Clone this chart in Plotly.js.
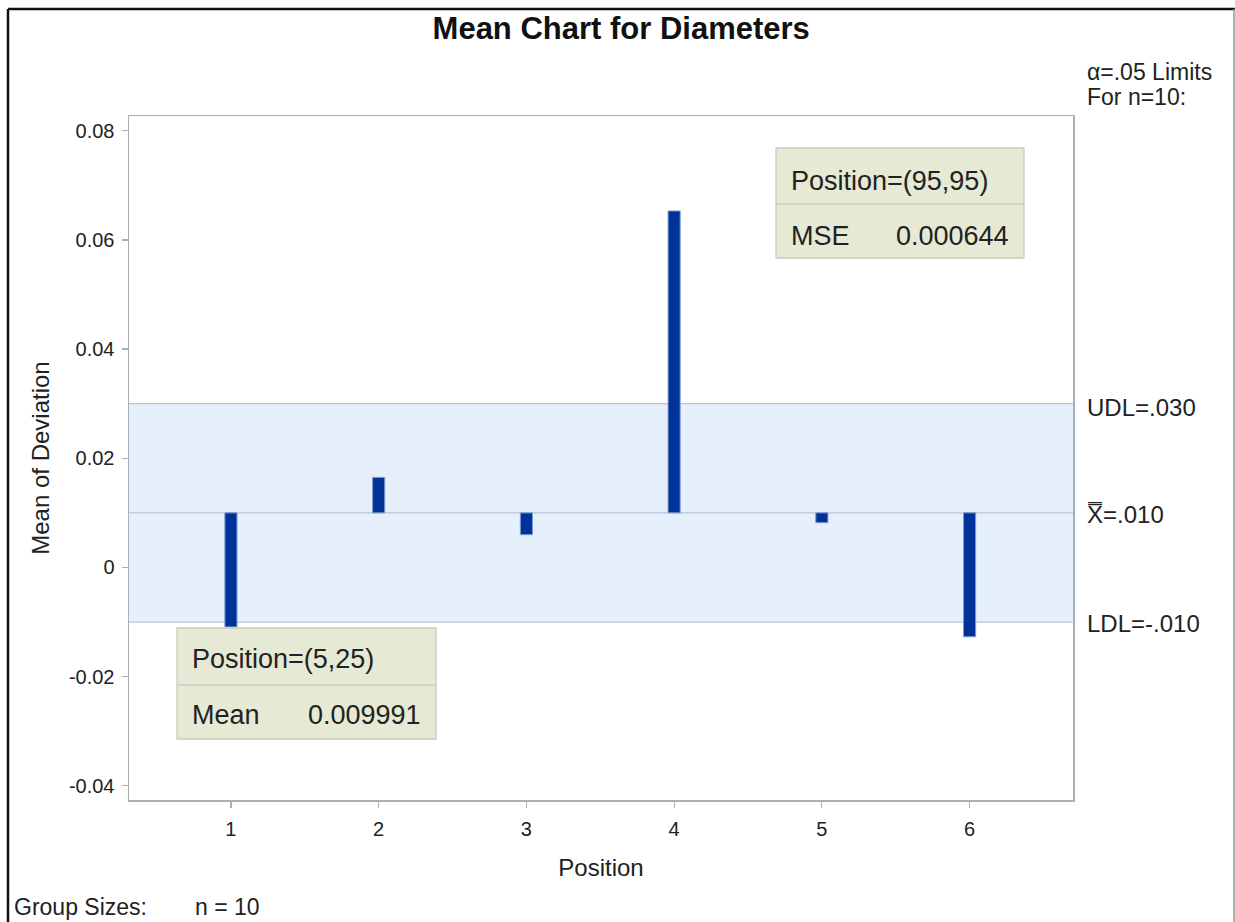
<!DOCTYPE html>
<html>
<head>
<meta charset="utf-8">
<script src="https://cdn.plot.ly/plotly-3.0.1.min.js"></script>
<style>html,body{margin:0;padding:0;background:#fff;}#chart{width:1235px;height:922px;}</style>
</head>
<body>
<div id="chart"></div>
<script>
// ---- data ----
const positions = [1, 2, 3, 4, 5, 6];
const means = [-0.0109, 0.0165, 0.0060, 0.0653, 0.0082, -0.0127];
const centerLine = 0.010;
const upperLimit = 0.030;
const lowerLimit = -0.010;
const yTickVals = [-0.04, -0.02, 0, 0.02, 0.04, 0.06, 0.08];
const yTickText = ['-0.04', '-0.02', '0', '0.02', '0.04', '0.06', '0.08'];
const limitLabels = ['UDL=.030', 'X\u033F=.010', 'LDL=-.010'];
const insetMean = ['Position=(5,25)', 'Mean', '0.009991'];
const insetMSE = ['Position=(95,95)', 'MSE', '0.000644'];

// ---- layout helpers (pixel -> paper) ----
const L = 129, R = 1073, T = 116, B = 800;
const px = v => (v - L) / (R - L);
const py = v => (B - v) / (B - T);
const FONT = 'Liberation Sans, Arial, sans-serif';
const TXT = '#222';

const trace = {
  type: 'bar',
  x: positions,
  y: means.map(m => m - centerLine),
  base: centerLine,
  width: 0.082,
  marker: {color: '#003399', line: {color: '#7f99cc', width: 1}},
  hoverinfo: 'skip'
};

const boxFill = '#e6e9d3', boxLine = '#c9cbc0';
const shapes = [
  {type:'rect', xref:'paper', yref:'y', x0:0, x1:1, y0:lowerLimit, y1:upperLimit,
   fillcolor:'#e6f0fd', line:{width:0}, layer:'below'},
  ...[upperLimit, centerLine, lowerLimit].map(v => ({type:'line', xref:'paper', yref:'y',
   x0:0, x1:1, y0:v, y1:v, line:{color:'#b9c3d6', width:1.3}, layer:'below'})),
  // inset box 1
  {type:'rect', xref:'paper', yref:'paper', x0:px(177), x1:px(436), y0:py(739), y1:py(628),
   fillcolor:boxFill, line:{color:boxLine, width:1.3}},
  {type:'line', xref:'paper', yref:'paper', x0:px(177), x1:px(436), y0:py(685), y1:py(685),
   line:{color:boxLine, width:1.3}},
  // inset box 2
  {type:'rect', xref:'paper', yref:'paper', x0:px(776), x1:px(1024), y0:py(258), y1:py(148),
   fillcolor:boxFill, line:{color:boxLine, width:1.3}},
  {type:'line', xref:'paper', yref:'paper', x0:px(776), x1:px(1024), y0:py(204), y1:py(204),
   line:{color:boxLine, width:1.3}},
  // outer frame
  {type:'line', xref:'paper', yref:'paper', x0:px(8), x1:px(1235), y0:py(9), y1:py(9),
   line:{color:'#111', width:2.5}},
  {type:'line', xref:'paper', yref:'paper', x0:px(8), x1:px(8), y0:py(9), y1:py(930),
   line:{color:'#111', width:2.5}},
  {type:'line', xref:'paper', yref:'paper', x0:px(1234), x1:px(1234), y0:py(9), y1:py(930),
   line:{color:'#999', width:1.5}}
];

const ann = (text, x, y, xanchor, size, extra) => Object.assign({
  text, x, y, xref:'paper', yref:'paper', xanchor, yanchor:'middle', showarrow:false,
  font:{family:FONT, size, color:TXT}
}, extra || {});

const annotations = [
  ann('\u03b1=.05 Limits', px(1085), py(72), 'left', 23),
  ann('For n=10:', px(1085), py(97), 'left', 23),
  {text:limitLabels[0], x:px(1085), y:upperLimit, xref:'paper', yref:'y', xanchor:'left', yanchor:'middle',
   yshift:-4, showarrow:false, font:{family:FONT, size:24, color:TXT}},
  {text:limitLabels[1], x:px(1085), y:centerLine, xref:'paper', yref:'y', xanchor:'left', yanchor:'middle',
   yshift:-2, showarrow:false, font:{family:FONT, size:24, color:TXT}},
  {text:limitLabels[2], x:px(1085), y:lowerLimit, xref:'paper', yref:'y', xanchor:'left', yanchor:'middle',
   yshift:-1, showarrow:false, font:{family:FONT, size:24, color:TXT}},
  ann(insetMean[0], px(190), py(659), 'left', 27),
  ann(insetMean[1], px(190), py(715), 'left', 27),
  ann(insetMean[2], px(423), py(715), 'right', 27),
  ann(insetMSE[0], px(789), py(181), 'left', 27),
  ann(insetMSE[1], px(789), py(236), 'left', 27),
  ann(insetMSE[2], px(1011), py(236), 'right', 27),
  ann('Group Sizes:', px(12), py(907), 'left', 23),
  ann('n = 10', px(193), py(907), 'left', 23)
];

const axisCommon = {
  showgrid:false, zeroline:false, showline:true, mirror:true,
  linecolor:'#a9b0b7', linewidth:1.5,
  ticks:'outside', ticklen:6, tickcolor:'#a9b0b7', tickwidth:1.2,
  tickfont:{family:FONT, size:20, color:TXT}
};

const layout = {
  width:1235, height:922,
  margin:{l:L, r:1235-R, t:T, b:922-B, pad:0},
  paper_bgcolor:'#fff', plot_bgcolor:'#fff',
  showlegend:false,
  title:{text:'<b>Mean Chart for Diameters</b>', x:0.503, xanchor:'center', y:1-28/922, yanchor:'middle',
         font:{family:FONT, size:31, color:'#111'}},
  xaxis:Object.assign({}, axisCommon, {
    range:[0.31, 6.70], tickvals:positions, ticktext:positions.map(String),
    ticklabelstandoff:4,
    title:{text:'Position', font:{family:FONT, size:24, color:TXT}, standoff:20}
  }),
  yaxis:Object.assign({}, axisCommon, {
    range:[-0.0426, 0.0827], tickvals:yTickVals, ticktext:yTickText,
    ticklabelstandoff:3,
    title:{text:'Mean of Deviation', font:{family:FONT, size:24, color:TXT}, standoff:12}
  }),
  shapes, annotations
};

Plotly.newPlot('chart', [trace], layout, {displayModeBar:false, staticPlot:true});
</script>
</body>
</html>
